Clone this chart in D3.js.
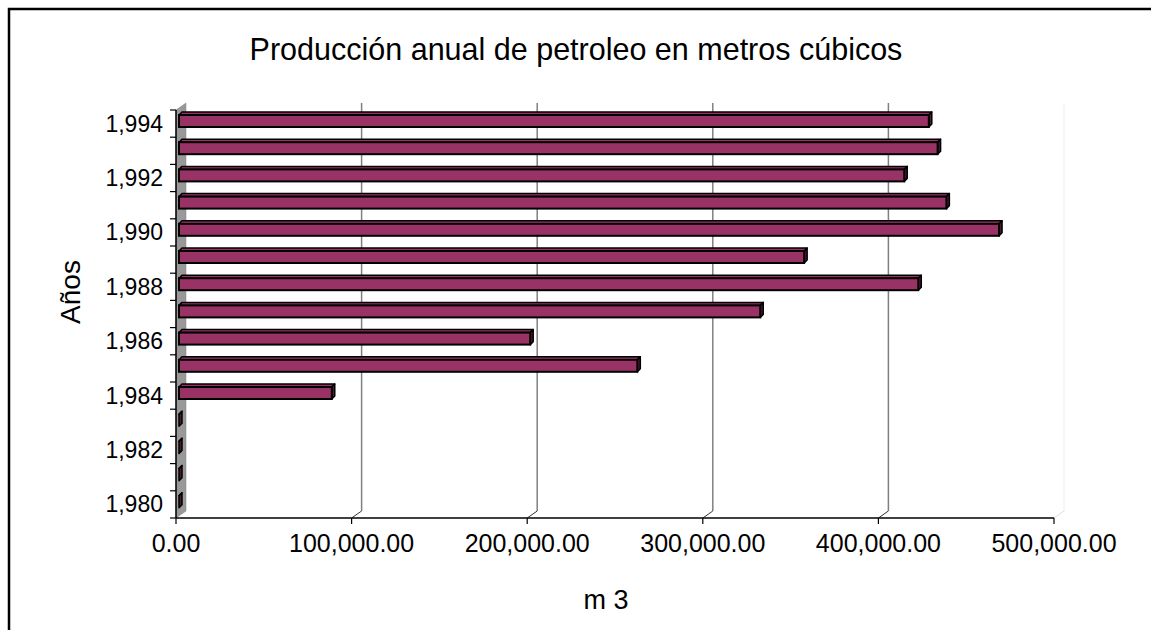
<html>
  <head>
    <title>Producción anual de petroleo</title>
    <script src="https://d3js.org/d3.v7.min.js"></script>
    <style>
      body { margin: 0; background: white; font-family: "Liberation Sans", Arial, sans-serif; }
      svg text { fill: #000; }
    </style>
  </head>
  <body>
    <svg width="1151" height="630"></svg>
    <script>
      // data
      var years = [1980, 1981, 1982, 1983, 1984, 1985, 1986, 1987, 1988, 1989, 1990, 1991, 1992, 1993, 1994];
      var production = [0, 0, 0, 0, 87000, 261000, 200000, 331000, 421000, 356000, 467000, 437000, 413000, 432000, 427000];
      var xTicks = [0, 100000, 200000, 300000, 400000, 500000];
      var yLabelYears = [1980, 1982, 1984, 1986, 1988, 1990, 1992, 1994];

      var svg = d3.select("svg");

      // frame
      svg.append("rect")
        .attr("x", 9).attr("y", 9)
        .attr("width", 1300).attr("height", 800)
        .attr("fill", "none").attr("stroke", "#000").attr("stroke-width", 2.5);

      var pLeft = 176, pRight = 1054, pTop = 110, pBottom = 518;
      var depthX = 10, depthY = -7;

      var x = d3.scaleLinear().domain([0, 500000]).range([pLeft, pRight]);
      var y = d3.scaleBand().domain(years.slice().reverse()).range([pTop, pBottom]).padding(0);

      var fmt = d3.format(",.2f");

      // back wall right edge (very faint)
      svg.append("line")
        .attr("x1", pRight + depthX).attr("x2", pRight + depthX)
        .attr("y1", pTop + depthY).attr("y2", pBottom + depthY)
        .attr("stroke", "#eee");
      svg.append("line")
        .attr("x1", pRight).attr("x2", pRight + depthX)
        .attr("y1", pBottom).attr("y2", pBottom + depthY)
        .attr("stroke", "#ddd");

      // gridlines on back wall
      svg.selectAll(".grid").data(xTicks.slice(1, 5)).enter().append("line")
        .attr("x1", function(d){ return x(d) + depthX; })
        .attr("x2", function(d){ return x(d) + depthX; })
        .attr("y1", pTop + depthY).attr("y2", pBottom + depthY)
        .attr("stroke", "#808080").attr("stroke-width", 1.5);

      // floor slants
      svg.selectAll(".floor").data(xTicks.slice(1, 5)).enter().append("line")
        .attr("x1", function(d){ return x(d); })
        .attr("x2", function(d){ return x(d) + depthX; })
        .attr("y1", pBottom).attr("y2", pBottom + depthY)
        .attr("stroke", "#333");

      // left wall
      svg.append("polygon")
        .attr("points", [[pLeft, pBottom], [pLeft, pTop], [pLeft + depthX, pTop + depthY], [pLeft + depthX, pBottom + depthY]].join(" "))
        .attr("fill", "#999").attr("stroke", "#808080").attr("stroke-width", 0.5);

      // bars
      var bx = 3, by = -3, barH = 12;
      var bars = svg.selectAll(".bar").data(years).enter().append("g");
      bars.each(function(d, i){
        var g = d3.select(this);
        var x0 = x(0) + 3, x1 = x(0) + 3 + (x(production[i]) - x(0));
        var y0 = y(d) + 5, y1 = y0 + barH;
        g.append("polygon")
          .attr("points", [[x0, y0], [x0 + bx, y0 + by], [x1 + bx, y0 + by], [x1, y0]].join(" "))
          .attr("fill", "#993366").attr("stroke", "#000").attr("stroke-width", 1.5).attr("stroke-linejoin", "round");
        g.append("polygon")
          .attr("points", [[x1, y0], [x1 + bx, y0 + by], [x1 + bx, y1 + by], [x1, y1]].join(" "))
          .attr("fill", "#4d1933").attr("stroke", "#000").attr("stroke-width", 1.5).attr("stroke-linejoin", "round");
        g.append("rect")
          .attr("x", x0).attr("y", y0)
          .attr("width", x1 - x0).attr("height", barH)
          .attr("fill", "#993366").attr("stroke", "#000").attr("stroke-width", 2);
      });

      // y axis
      svg.append("line")
        .attr("x1", pLeft).attr("x2", pLeft).attr("y1", pTop).attr("y2", pBottom)
        .attr("stroke", "#000").attr("stroke-width", 1.5);
      var bounds = years.map(function(d){ return y(d); }).concat([pBottom]);
      svg.selectAll(".ytick").data(bounds).enter().append("line")
        .attr("x1", pLeft - 6).attr("x2", pLeft)
        .attr("y1", function(d){ return d; }).attr("y2", function(d){ return d; })
        .attr("stroke", "#000").attr("stroke-width", 1.2);
      svg.selectAll(".ylab").data(yLabelYears).enter().append("text")
        .attr("x", pLeft - 13)
        .attr("y", function(d){ return y(d) + y.bandwidth() / 2; })
        .attr("dy", "0.35em")
        .attr("text-anchor", "end")
        .attr("font-size", 23)
        .text(function(d){ return d3.format(",")(d); });

      // x axis
      svg.append("line")
        .attr("x1", pLeft).attr("x2", pRight).attr("y1", pBottom).attr("y2", pBottom)
        .attr("stroke", "#000").attr("stroke-width", 1.5);
      svg.selectAll(".xtick").data(xTicks).enter().append("line")
        .attr("x1", function(d){ return x(d); }).attr("x2", function(d){ return x(d); })
        .attr("y1", pBottom).attr("y2", pBottom + 6)
        .attr("stroke", "#000").attr("stroke-width", 1.2);
      svg.selectAll(".xlab").data(xTicks).enter().append("text")
        .attr("x", function(d){ return x(d); })
        .attr("y", 552)
        .attr("text-anchor", "middle")
        .attr("font-size", 25)
        .text(function(d){ return fmt(d); });

      // titles
      svg.append("text")
        .attr("x", 576).attr("y", 60)
        .attr("text-anchor", "middle")
        .attr("font-size", 30.5)
        .text("Producción anual de petroleo en metros cúbicos");
      svg.append("text")
        .attr("transform", "translate(80,292) rotate(-90)")
        .attr("text-anchor", "middle")
        .attr("font-size", 28)
        .text("Años");
      svg.append("text")
        .attr("x", 606).attr("y", 609)
        .attr("text-anchor", "middle")
        .attr("font-size", 27)
        .text("m 3");
    </script>
  </body>
</html>
